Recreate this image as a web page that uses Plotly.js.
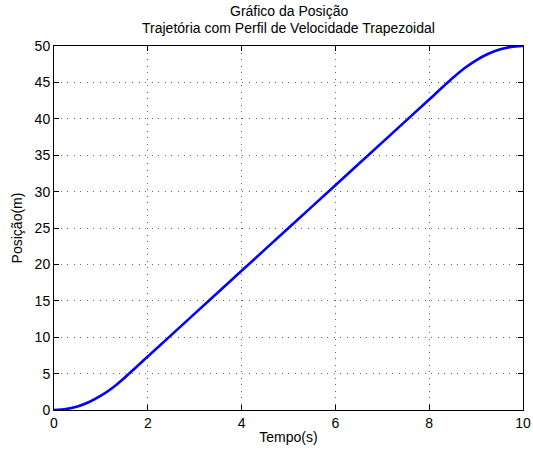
<!DOCTYPE html>
<html>
<head>
<meta charset="utf-8">
<script src="https://cdn.plot.ly/plotly-3.0.1.min.js"></script>
<style>
  html, body { margin: 0; padding: 0; background: #fff; }
  #chart { width: 533px; height: 452px; }
</style>
</head>
<body>
<div id="chart"></div>
<script>
// Time samples (s) and position (m) along the trapezoidal-velocity trajectory
var tempo = [0, 0.25, 0.5, 0.75, 1.0, 1.25, 1.5, 2, 3, 4, 5, 6, 7, 8, 8.5,
             8.75, 9.0, 9.25, 9.5, 9.75, 10];
var posicao = [0, 0.12, 0.49, 1.10, 1.96, 3.06, 4.41, 7.35, 13.24, 19.12, 25.0,
               30.88, 36.76, 42.65, 45.59, 46.94, 48.04, 48.90, 49.51, 49.88, 50];

var xTicks = [0, 2, 4, 6, 8, 10];
var yTicks = [0, 5, 10, 15, 20, 25, 30, 35, 40, 45, 50];

var tituloLinhas = ['Gráfico da Posição', 'Trajetória com Perfil de Velocidade Trapezoidal'];

var font = { family: 'Liberation Sans, Arial, sans-serif', size: 14, color: '#000' };

var axisCommon = {
  showline: true, linecolor: '#000', linewidth: 1, mirror: 'ticks',
  ticks: 'inside', ticklen: 5, tickcolor: '#000', tickwidth: 1,
  showgrid: true, gridcolor: '#666', griddash: '1px,5.5px', gridwidth: 1,
  zeroline: false, tickfont: font, fixedrange: true
};

var trace = {
  x: tempo, y: posicao, type: 'scatter', mode: 'lines',
  line: { color: '#0000ff', width: 2.6, shape: 'spline', smoothing: 0.6 },
  hoverinfo: 'skip'
};

// Two-line title, stacked above the plot area
var titleShifts = [25, 8];
var annotations = tituloLinhas.map(function (txt, i) {
  return {
    text: txt, showarrow: false, font: font,
    xref: 'paper', x: 0.5, xanchor: 'center',
    yref: 'paper', y: 1, yanchor: 'bottom', yshift: titleShifts[i]
  };
});

var layout = {
  width: 533, height: 452,
  margin: { l: 54, r: 10, t: 46, b: 42 },
  paper_bgcolor: '#fff', plot_bgcolor: '#fff',
  showlegend: false,
  font: font,
  annotations: annotations,
  xaxis: Object.assign({}, axisCommon, {
    range: [0, 10], tickvals: xTicks, ticktext: xTicks.map(String),
    title: { text: 'Tempo(s)', font: font, standoff: 2 }
  }),
  yaxis: Object.assign({}, axisCommon, {
    range: [0, 50], tickvals: yTicks, ticktext: yTicks.map(String),
    title: { text: 'Posição(m)', font: font, standoff: 8 }
  })
};

Plotly.newPlot('chart', [trace], layout, { staticPlot: true, displayModeBar: false });
</script>
</body>
</html>
